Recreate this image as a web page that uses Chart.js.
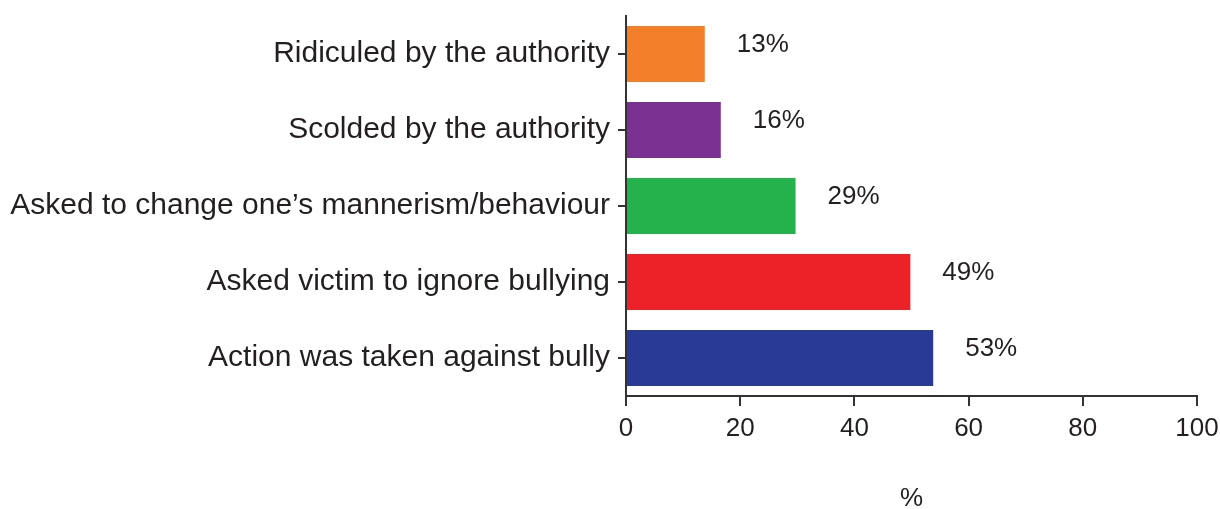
<!DOCTYPE html>
<html>
<head>
<meta charset="utf-8">
<script src="https://cdn.jsdelivr.net/npm/chart.js@4"></script>
<style>
    html, body { margin: 0; padding: 0; background: #fff; }
    #wrap { width: 1220px; height: 509px; }
</style>
</head>
<body>
<div id="wrap"><canvas id="chart"></canvas></div>
<script>
// categories, top to bottom
const categories = [
    'Ridiculed by the authority',
    'Scolded by the authority',
    'Asked to change one\u2019s mannerism/behaviour',
    'Asked victim to ignore bullying',
    'Action was taken against bully'
];
// bar lengths as drawn (percent)
const values = [13.8, 16.6, 29.7, 49.8, 53.8];
// printed value labels
const valueLabels = ['13%', '16%', '29%', '49%', '53%'];
const barColors = ['#f47f2a', '#7b3191', '#23b24b', '#ed2128', '#293a96'];
const xTicks = [0, 20, 40, 60, 80, 100];

const INK = '#231f20';
const AXIS = '#333333';
const FONT = '"Liberation Sans", Arial, sans-serif';

// draws the "13%" etc. next to each bar
const valueLabelPlugin = {
    id: 'valueLabels',
    afterDatasetsDraw(chart) {
        const ctx = chart.ctx;
        const meta = chart.getDatasetMeta(0);
        ctx.save();
        ctx.font = '26px ' + FONT;
        ctx.fillStyle = INK;
        ctx.textAlign = 'left';
        ctx.textBaseline = 'middle';
        meta.data.forEach((bar, i) => {
            ctx.fillText(valueLabels[i], bar.x + 32, bar.y - 9);
        });
        ctx.restore();
    }
};

new Chart(document.getElementById('chart'), {
    type: 'bar',
    data: {
        labels: categories,
        datasets: [{
            data: values,
            backgroundColor: barColors,
            borderWidth: 0,
            barPercentage: 0.737,
            categoryPercentage: 1
        }]
    },
    options: {
        indexAxis: 'y',
        responsive: true,
        maintainAspectRatio: false,
        animation: false,
        layout: { padding: { top: 16, right: 23, bottom: 0, left: 0 } },
        plugins: {
            legend: { display: false },
            tooltip: { enabled: false }
        },
        scales: {
            x: {
                min: 0,
                max: 100,
                afterBuildTicks: (scale) => { scale.ticks = xTicks.map(v => ({ value: v })); },
                afterFit: (scale) => {
                    scale.height = 113;
                    scale.paddingLeft = 0;
                    scale.paddingRight = 0;
                },
                border: { display: true, color: AXIS, width: 2 },
                grid: { display: true, drawOnChartArea: false, drawTicks: true, tickLength: 10, color: AXIS, lineWidth: 2 },
                ticks: { color: INK, font: { family: FONT, size: 26 }, padding: 7, maxRotation: 0 },
                title: { display: true, text: '%', color: INK, font: { family: FONT, size: 26 }, padding: { top: 0, bottom: -5 } }
            },
            y: {
                afterFit: (scale) => {
                    scale.width = 626;
                    scale.paddingTop = 0;
                    scale.paddingBottom = 0;
                },
                border: { display: true, color: AXIS, width: 2 },
                grid: { display: true, drawOnChartArea: false, drawTicks: true, tickLength: 8, color: AXIS, lineWidth: 2, offset: false },
                ticks: { color: INK, font: { family: FONT, size: 30 }, padding: 8 }
            }
        }
    },
    plugins: [valueLabelPlugin]
});
</script>
</body>
</html>
